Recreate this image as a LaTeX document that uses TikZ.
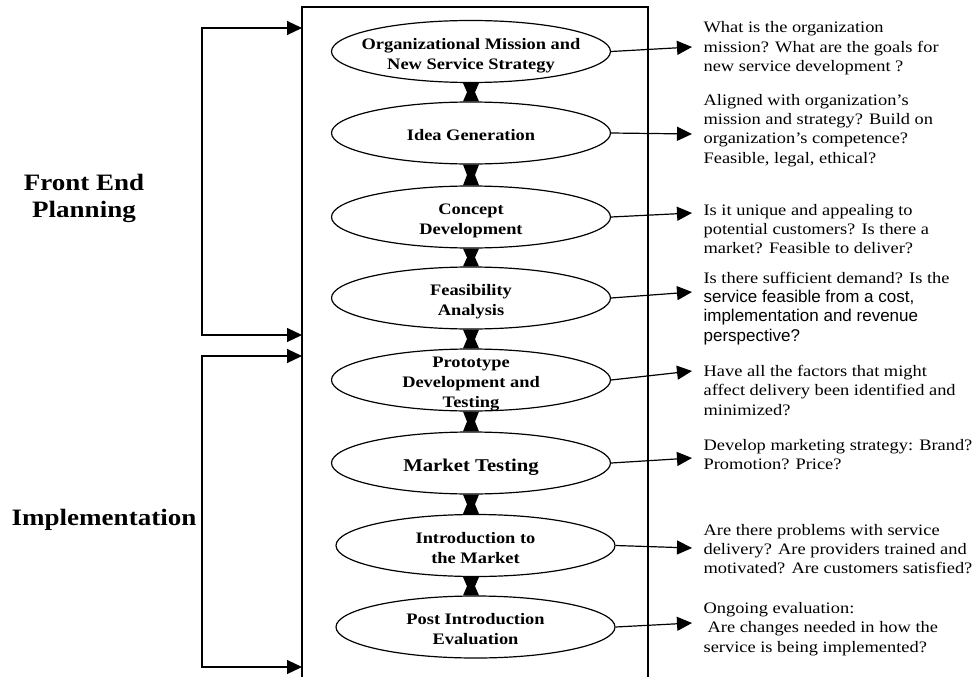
\documentclass[tikz,border=0pt]{standalone}
\usepackage{fontspec}
\setmainfont{Liberation Serif}[FakeStretch=1.15]
\setsansfont{Liberation Sans}
\usetikzlibrary{shapes.geometric,arrows.meta}

\def \stagewidth {279pt}
\def \stageheight {62pt}
\def \tipx {692}
\def \notex {703}
\def \hg {8pt}
\newcommand{\stagelabel}[1]{\makebox[0pt]{\smash{\raisebox{-8pt}{\begin{tabular}{@{}c@{}}#1\end{tabular}}}}}
\newcommand{\sanslabel}[1]{{\sffamily\fontsize{17}{19.3}\selectfont #1}}

\begin{document}
\begin{tikzpicture}[x=1pt, y=-1pt, line width=1.2pt,
  >={Triangle[length=15pt,width=14pt]},
  stage/.style={draw, ellipse, minimum width=\stagewidth, minimum height=\stageheight, inner sep=0pt,
    font=\bfseries\fontsize{16}{20}\selectfont},
  note/.style={anchor=base west, inner sep=0pt, align=left, font=\fontsize{16}{19.3}\selectfont},
  phase/.style={align=center, font=\bfseries\fontsize{23.5}{27}\selectfont}]
\useasboundingbox (0,0) rectangle (977,677);
\clip (0,0) rectangle (977,677);

% frame, open at the bottom
\draw (302,690) |- (648,7) -- (648,690);

\node[stage] (e1) at (471,51.5) {\stagelabel{Organizational Mission and\\New Service Strategy}};
\node[stage] (e2) at (471,133) {\stagelabel{Idea Generation}};
\node[stage] (e3) at (471,217) {\stagelabel{Concept\\Development}};
\node[stage] (e4) at (471,298) {\stagelabel{Feasibility\\Analysis}};
\node[stage] (e5) at (471,380) {\stagelabel{Prototype\\Development and\\Testing}};
\node[stage, font=\bfseries\fontsize{18}{22}\selectfont] (e6) at (471,463) {\stagelabel{Market Testing}};
\node[stage] (e7) at (475.5,545.5) {\stagelabel{Introduction to\\the Market}};
\node[stage] (e8) at (475.5,627) {\stagelabel{Post Introduction\\Evaluation}};

% hourglass double arrows
\foreach \a/\b in {e1/e2,e2/e3,e3/e4,e4/e5,e5/e6,e6/e7,e7/e8} {
  \fill (e1 |- \a.south) -- ([xshift=-\hg]e1 |- \b.north) -- ([xshift=\hg]e1 |- \b.north) -- cycle;
  \fill (e1 |- \b.north) -- ([xshift=-\hg]e1 |- \a.south) -- ([xshift=\hg]e1 |- \a.south) -- cycle;
}

% questions (placed by the baseline of their last line)
\foreach \i/\y in {1/47,2/134,3/213,4/292,5/371,6/458,7/548,8/623} {
  \coordinate (q\i) at (\tipx,\y);
  \draw[->] (e\i.east) -- (q\i);
}
\node[note] (n1) at (\notex,71.6) {What is the organization\\mission? What are the goals for\\new service development ?};
\node[note] (n2) at (\notex,163) {Aligned with organization’s\\mission and strategy? Build on\\organization’s competence?\\Feasible, legal, ethical?};
\node[note] (n3) at (\notex,253.6) {Is it unique and appealing to\\potential customers? Is there a\\market? Feasible to deliver?};
\node[note] (n4) at (\notex,341) {Is there sufficient demand? Is the\\\sanslabel{service feasible from a cost,}\\\sanslabel{implementation and revenue}\\\sanslabel{perspective?}};
\node[note] (n5) at (\notex,415) {Have all the factors that might\\affect delivery been identified and\\minimized?};
\node[note] (n6) at (\notex,469.3) {Develop marketing strategy: Brand?\\Promotion? Price?};
\node[note] (n7) at (\notex,573.6) {Are there problems with service\\delivery? Are providers trained and\\motivated? Are customers satisfied?};
\node[note] (n8) at (\notex,652) {Ongoing evaluation:\\\hspace{4pt}Are changes needed in how the\\service is being implemented?};

% phases
\node[phase] (fe) at (84,198) {Front End\\Planning};
\node[phase] (im) at (104,520) {Implementation};
\coordinate (fetop) at (302,28);
\coordinate (febot) at (302,335);
\coordinate (imtop) at (302,356);
\coordinate (imbot) at (302,667);
\draw[<->] (fetop) -- ++(-100,0) |- (febot);
\draw[<->] (imtop) -- ++(-100,0) |- (imbot);
\end{tikzpicture}
\end{document}
